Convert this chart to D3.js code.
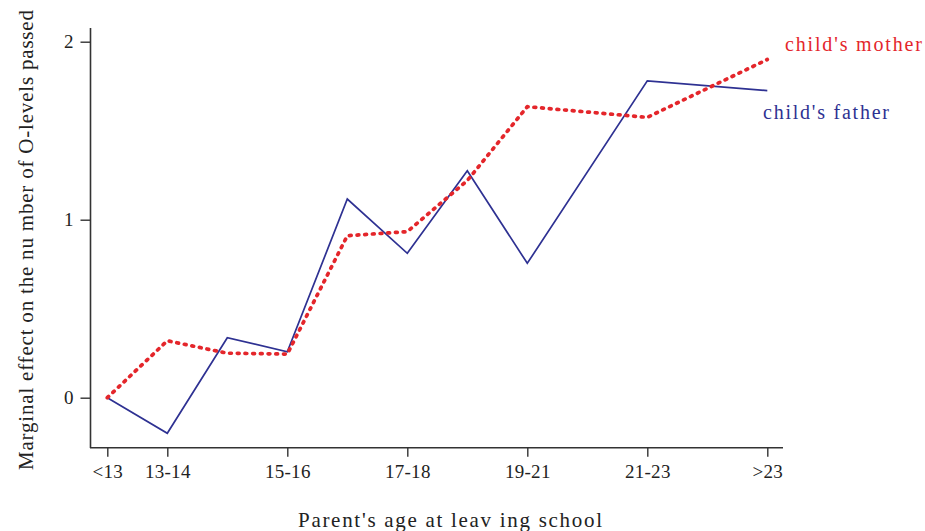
<!DOCTYPE html>
<html><head><meta charset="utf-8">
<script src="https://cdn.jsdelivr.net/npm/d3@7"></script>
<style>
body{margin:0;background:#fff;}
svg{display:block;}
text{font-family:"Liberation Serif","Times New Roman",serif;}
</style></head>
<body><svg id="c" width="925" height="531"></svg>
<script>
// positions along age axis (index units)
const xPositions = [0, 1, 2, 3, 4, 5, 6, 7, 9, 11];
const fatherValues = [0, -0.2, 0.337, 0.258, 1.116, 0.811, 1.275, 0.755, 1.78, 1.725];
const motherValues = [0, 0.32, 0.25, 0.245, 0.91, 0.933, 1.22, 1.635, 1.575, 1.90];
const xTickPositions = [0, 1, 3, 5, 7, 9, 11];
const xTickLabels = ["<13", "13-14", "15-16", "17-18", "19-21", "21-23", ">23"];
const yTicks = [0, 1, 2];
const seriesNames = ["child's mother", "child's father"];

const svg = d3.select("#c");
const x = d3.scaleLinear().domain([0, 11]).range([107.3, 767.3]);
const y = d3.scaleLinear().domain([0, 2]).range([397.7, 41.7]);

const axisColor = "#333";
svg.append("line").attr("x1", 90.5).attr("x2", 90.5).attr("y1", 28).attr("y2", 448)
  .attr("stroke", axisColor).attr("stroke-width", 1.6);
svg.append("line").attr("x1", 90).attr("x2", 783).attr("y1", 447.7).attr("y2", 447.7)
  .attr("stroke", axisColor).attr("stroke-width", 1.6);

const yAxis = d3.axisLeft(y).tickValues(yTicks).tickFormat(d3.format("d")).tickSize(10).tickPadding(7);
const gy = svg.append("g").attr("transform", "translate(90.5,0)").call(yAxis);
gy.select(".domain").remove();
gy.selectAll("line").attr("stroke", axisColor).attr("stroke-width", 1.4);
gy.selectAll("text").attr("font-size", 19).attr("fill", "#222").attr("font-family", "Liberation Serif");

const xAxis = d3.axisBottom(x).tickValues(xTickPositions).tickFormat((d, i) => xTickLabels[i]).tickSize(9).tickPadding(8);
const gx = svg.append("g").attr("transform", "translate(0,447.7)").call(xAxis);
gx.select(".domain").remove();
gx.selectAll("line").attr("stroke", axisColor).attr("stroke-width", 1.4);
gx.selectAll("text").attr("font-size", 19).attr("fill", "#222").attr("font-family", "Liberation Serif")
  .attr("letter-spacing", 0.3);

const fatherData = xPositions.map((p, i) => [p, fatherValues[i]]);
const motherData = xPositions.map((p, i) => [p, motherValues[i]]);
const line = d3.line().x(d => x(d[0])).y(d => y(d[1]));

svg.append("path").datum(fatherData).attr("d", line)
  .attr("fill", "none").attr("stroke", "#2e3192").attr("stroke-width", 1.7)
  .attr("stroke-linejoin", "miter");
svg.append("path").datum(motherData).attr("d", line)
  .attr("fill", "none").attr("stroke", "#e4262b").attr("stroke-width", 3.7)
  .attr("stroke-dasharray", "1.8,5.9").attr("stroke-linecap", "round").attr("stroke-linejoin", "round");

svg.append("text").attr("x", 785).attr("y", 51).text(seriesNames[0])
  .attr("fill", "#e4262b").attr("font-size", 20)
  .attr("textLength", 137).attr("lengthAdjust", "spacing");
svg.append("text").attr("x", 763).attr("y", 119).text(seriesNames[1])
  .attr("fill", "#2e3192").attr("font-size", 20)
  .attr("textLength", 126).attr("lengthAdjust", "spacing");

svg.append("text").attr("x", 298).attr("y", 527).text("Parent's age  at leav ing school")
  .attr("fill", "#222").attr("font-size", 21)
  .attr("textLength", 304).attr("lengthAdjust", "spacing");
svg.append("text").attr("transform", "translate(33,470) rotate(-90)")
  .text("Marginal effect on the nu mber of O-levels passed")
  .attr("fill", "#222").attr("font-size", 21)
  .attr("textLength", 460).attr("lengthAdjust", "spacing");
</script></body></html>
